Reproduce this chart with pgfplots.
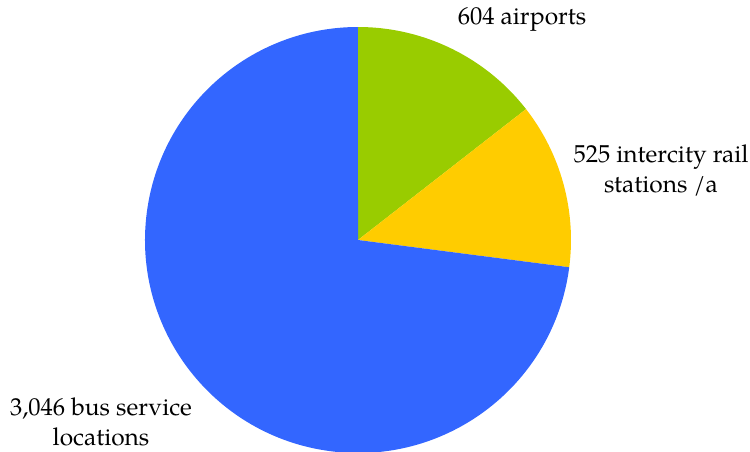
\documentclass[border=0pt]{standalone}
\usepackage{pgfplots}
\pgfplotsset{compat=1.18}
\usepackage{fontspec}
\setmainfont{TeX Gyre Pagella}
\definecolor{cgreen}{HTML}{99CC00}
\definecolor{cyellow}{HTML}{FFCC00}
\definecolor{cblue}{HTML}{3366FF}
% data
\def\vA{604}   % airports
\def\vB{525}   % intercity rail stations
\def\vC{3046}  % bus service locations
\begin{document}
\begin{tikzpicture}
\pgfmathsetmacro{\tot}{\vA+\vB+\vC}
\pgfmathsetmacro{\aA}{90-360*(\vA/\tot)}
\pgfmathsetmacro{\aB}{\aA-360*(\vB/\tot)}
\pgfmathsetmacro{\aC}{\aB-360*(\vC/\tot)}
\begin{axis}[
  x=1pt, y=1pt, scale only axis,
  xmin=0, xmax=750, ymin=0, ymax=451,
  hide axis, clip=false,
]
\fill[cgreen] (axis cs:358,211) -- ++(90:213) arc[start angle=90, end angle=\aA, radius=213] -- cycle;
\fill[cyellow] (axis cs:358,211) -- ++(\aA:213) arc[start angle=\aA, end angle=\aB, radius=213] -- cycle;
\fill[cblue] (axis cs:358,211) -- ++(\aB:213) arc[start angle=\aB, end angle=\aC, radius=213] -- cycle;
\node[font=\fontsize{24.5}{30}\selectfont, align=center, inner sep=0pt] at (axis cs:522,432) {604 airports};
\node[font=\fontsize{24.5}{30}\selectfont, align=center, inner sep=0pt] at (axis cs:661,281) {525 intercity rail\\stations /a};
\node[font=\fontsize{24.5}{30}\selectfont, align=center, inner sep=0pt] at (axis cs:101,29) {3,046 bus service\\locations};
\end{axis}
\pgfresetboundingbox
\path (0,0) rectangle (750pt,451pt);
\end{tikzpicture}
\end{document}
